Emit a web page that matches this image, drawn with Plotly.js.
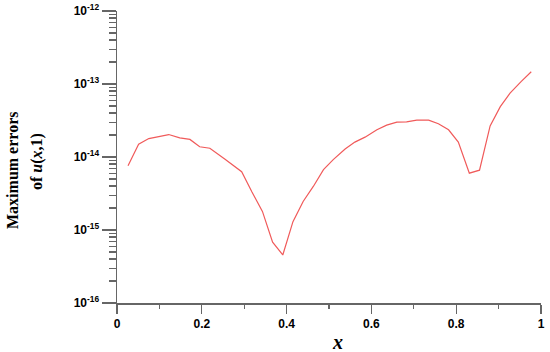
<!DOCTYPE html>
<html>
<head>
<meta charset="utf-8">
<script src="https://cdn.plot.ly/plotly-3.0.1.min.js"></script>
<style>
	html, body { margin: 0; padding: 0; background: #fff; }
	#graph { width: 550px; height: 352px; }
</style>
</head>
<body>
<div id="graph"></div>
<script>
// values
var xs = [0.026, 0.051, 0.075, 0.098, 0.122, 0.148, 0.172, 0.195, 0.219, 0.254, 0.294, 0.318,
	0.343, 0.367, 0.391, 0.415, 0.439, 0.463, 0.487, 0.510, 0.538, 0.561, 0.585, 0.613,
	0.636, 0.660, 0.683, 0.707, 0.735, 0.758, 0.782, 0.805, 0.831, 0.855, 0.880, 0.904,
	0.927, 0.953, 0.977];
var errs = [7.6e-15, 1.5e-14, 1.79e-14, 1.92e-14, 2.03e-14, 1.83e-14, 1.74e-14, 1.38e-14, 1.32e-14,
	9.4e-15, 6.3e-15, 3.35e-15, 1.8e-15, 6.8e-16, 4.55e-16, 1.3e-15, 2.46e-15, 3.95e-15,
	6.7e-15, 9.2e-15, 1.29e-14, 1.6e-14, 1.87e-14, 2.36e-14, 2.73e-14, 3.0e-14, 3.03e-14,
	3.2e-14, 3.2e-14, 2.85e-14, 2.36e-14, 1.6e-14, 6.0e-15, 6.6e-15, 2.67e-14, 4.9e-14,
	7.5e-14, 1.08e-13, 1.47e-13];

var ytickvals = [1e-16, 1e-15, 1e-14, 1e-13, 1e-12];
var yticktext = ['10<sup>-16</sup>', '10<sup>-15</sup>', '10<sup>-14</sup>', '10<sup>-13</sup>', '10<sup>-12</sup>'];
var xtickvals = [0, 0.2, 0.4, 0.6, 0.8, 1];
var xticktext = ['0', '0.2', '0.4', '0.6', '0.8', '1'];

var trace1 = {
	x: xs,
	y: errs,
	type: 'scatter',
	mode: 'lines',
	line: { color: 'rgb(240,90,90)', width: 1.2 },
};

var tickfont = { family: 'Liberation Sans, Arial, sans-serif', size: 12, color: '#000', weight: 'bold' };
var titlefont = { family: 'Liberation Serif, Times New Roman, serif', size: 16, color: '#000', weight: 'bold' };

var layout = {
	width: 550,
	height: 352,
	margin: { l: 117, r: 9, t: 11, b: 49 },
	paper_bgcolor: '#fff',
	plot_bgcolor: '#fff',
	showlegend: false,
	xaxis: {
		range: [0, 1],
		tickmode: 'array',
		tickvals: xtickvals,
		ticktext: xticktext,
		ticks: 'outside',
		ticklen: 9,
		tickwidth: 1.2,
		tickcolor: '#666',
		minor: { dtick: 0.1, ticks: 'outside', ticklen: 4, tickwidth: 1.2, tickcolor: '#666', showgrid: false },
		showline: true,
		linecolor: '#666',
		linewidth: 1.5,
		showgrid: false,
		zeroline: false,
		tickfont: tickfont,
	},
	yaxis: {
		type: 'log',
		range: [-16, -12],
		tickmode: 'array',
		tickvals: ytickvals,
		ticktext: yticktext,
		ticks: 'outside',
		ticklen: 14,
		tickwidth: 1.2,
		tickcolor: '#666',
		minor: { dtick: 'D1', ticks: 'outside', ticklen: 7, tickwidth: 1.2, tickcolor: '#666', showgrid: false },
		showline: true,
		linecolor: '#666',
		linewidth: 1.5,
		showgrid: false,
		zeroline: false,
		tickfont: tickfont,
	},
	annotations: [
		{
			text: 'Maximum errors',
			xref: 'paper', yref: 'paper',
			x: -0.248, y: 0.455,
			xanchor: 'center', yanchor: 'middle',
			textangle: -90,
			showarrow: false,
			font: titlefont,
		},
		{
			text: 'of <i>u</i>(<i>x</i>,1)',
			xref: 'paper', yref: 'paper',
			x: -0.187, y: 0.485,
			xanchor: 'center', yanchor: 'middle',
			textangle: -90,
			showarrow: false,
			font: titlefont,
		},
		{
			text: '<b><i>x</i></b>',
			xref: 'paper', yref: 'paper',
			x: 0.519, y: -0.134,
			xanchor: 'center', yanchor: 'middle',
			showarrow: false,
			font: { family: 'Liberation Serif, Times New Roman, serif', size: 20, color: '#000' },
		},
	],
};

Plotly.newPlot('graph', [trace1], layout, { staticPlot: true });
</script>
</body>
</html>
